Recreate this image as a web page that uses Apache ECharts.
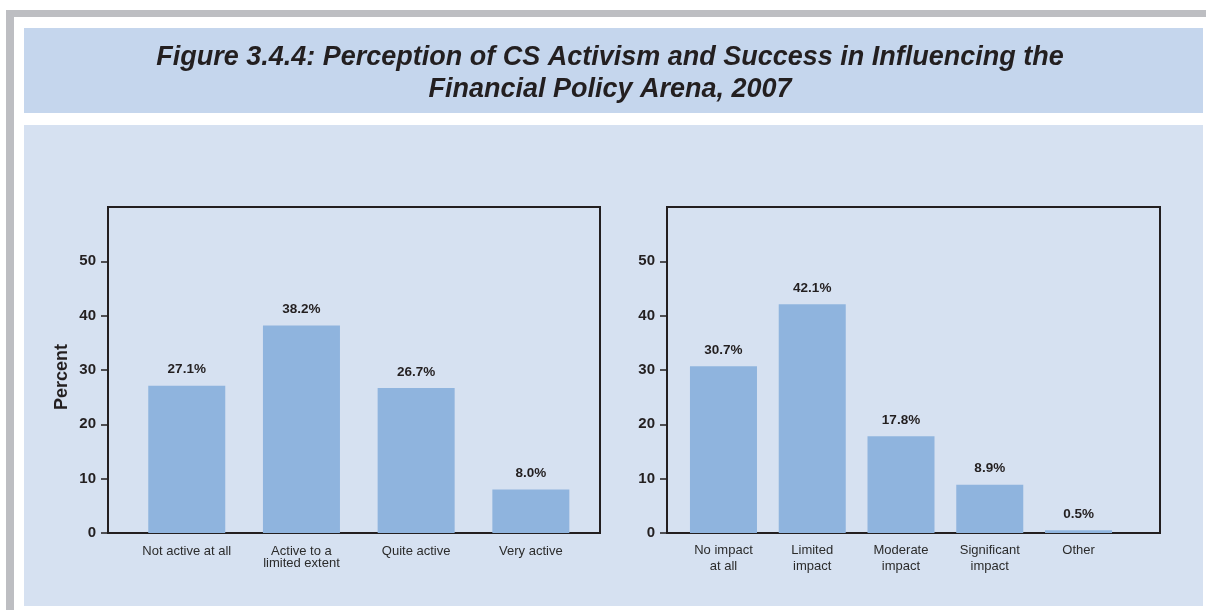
<!DOCTYPE html>
<html>
<head>
<meta charset="utf-8">
<script src="https://cdn.jsdelivr.net/npm/echarts@6/dist/echarts.min.js"></script>
<style>
  html, body { margin: 0; padding: 0; background: #ffffff; }
  #chart { width: 1206px; height: 610px; }
</style>
</head>
<body>
<div id="chart"></div>
<script>
// Perception of civil-society activism (left) and its success (right), 2007
const activismCategories = ['Not active at all', 'Active to a\nlimited extent', 'Quite active', 'Very active'];
const activismValues = [27.1, 38.2, 26.7, 8.0];

const impactCategories = ['No impact\nat all', 'Limited\nimpact', 'Moderate\nimpact', 'Significant\nimpact', 'Other'];
const impactValues = [30.7, 42.1, 17.8, 8.9, 0.5];

const yTicks = [0, 10, 20, 30, 40, 50];
const yMax = 60;

const INK = '#231f20';
const BAR = '#8fb4de';
const FONT = '"Liberation Sans", Arial, sans-serif';

const chart = echarts.init(document.getElementById('chart'), null, { renderer: 'canvas' });

function frameYAxis(gridIndex) {
  return {
    type: 'value', gridIndex, min: 0, max: yMax, interval: 10,
    axisLine: { show: true, lineStyle: { color: INK, width: 2 } },
    axisTick: { show: true, length: 7, customValues: yTicks, lineStyle: { color: INK, width: 1.5 } },
    axisLabel: {
      customValues: yTicks, margin: 12,
      color: INK, fontFamily: FONT, fontWeight: 'bold', fontSize: 15
    },
    splitLine: { show: false }
  };
}

function dataYAxis(gridIndex) {
  return { type: 'value', gridIndex, min: 0, max: yMax, show: false };
}

function dataXAxis(gridIndex, cats, lineHeight, margin) {
  return {
    type: 'category', gridIndex, data: cats,
    axisLine: { show: false }, axisTick: { show: false },
    axisLabel: {
      interval: 0, margin: margin, color: '#2b2b2b', fontFamily: FONT,
      fontSize: 13, lineHeight: lineHeight, align: 'center'
    }
  };
}

function barSeries(axisIndex, values, width) {
  return {
    type: 'bar', xAxisIndex: axisIndex, yAxisIndex: axisIndex,
    data: values, barWidth: width,
    itemStyle: { color: BAR },
    label: {
      show: true, position: 'top', distance: 9,
      formatter: p => p.value.toFixed(1) + '%',
      color: INK, fontFamily: FONT, fontWeight: 'bold', fontSize: 13.5
    }
  };
}

const option = {
  animation: false,
  backgroundColor: '#ffffff',
  graphic: [
    // grey page rule along top and left
    { type: 'rect', z: -10, shape: { x: 6, y: 10, width: 1200, height: 7 }, style: { fill: '#bdbec2' } },
    { type: 'rect', z: -10, shape: { x: 6, y: 10, width: 8, height: 600 }, style: { fill: '#bdbec2' } },
    // title band
    { type: 'rect', z: -10, shape: { x: 24, y: 28, width: 1179, height: 85 }, style: { fill: '#c5d6ed' } },
    // chart panel
    { type: 'rect', z: -10, shape: { x: 24, y: 125, width: 1179, height: 481 }, style: { fill: '#d6e1f1' } },
    // shared y-axis caption
    {
      type: 'text', x: 62, y: 377, rotation: Math.PI / 2,
      style: {
        text: 'Percent', fill: INK, font: 'bold 18px ' + FONT,
        textAlign: 'center', textVerticalAlign: 'middle'
      }
    }
  ],
  title: {
    text: 'Figure 3.4.4: Perception of CS Activism and Success in Influencing the\nFinancial Policy Arena, 2007',
    left: 610, top: 42, padding: 0, textAlign: 'center',
    textStyle: {
      color: INK, fontFamily: FONT, fontWeight: 'bold', fontStyle: 'italic',
      fontSize: 27, lineHeight: 32
    }
  },
  grid: [
    // left frame + left data area
    { left: 108, top: 207, width: 492, height: 326, show: true, borderColor: INK, borderWidth: 2, backgroundColor: 'transparent' },
    { left: 129.4, top: 207, width: 458.8, height: 326 },
    // right frame + right data area
    { left: 667, top: 207, width: 493, height: 326, show: true, borderColor: INK, borderWidth: 2, backgroundColor: 'transparent' },
    { left: 679.1, top: 207, width: 443.8, height: 326 }
  ],
  xAxis: [
    { type: 'category', gridIndex: 0, data: [''], show: false },
    dataXAxis(1, activismCategories, 12, 12),
    { type: 'category', gridIndex: 2, data: [''], show: false },
    dataXAxis(3, impactCategories, 16, 9)
  ],
  yAxis: [
    frameYAxis(0),
    dataYAxis(1),
    frameYAxis(2),
    dataYAxis(3)
  ],
  series: [
    barSeries(1, activismValues, 77),
    barSeries(3, impactValues, 67)
  ]
};

chart.setOption(option);
</script>
</body>
</html>
